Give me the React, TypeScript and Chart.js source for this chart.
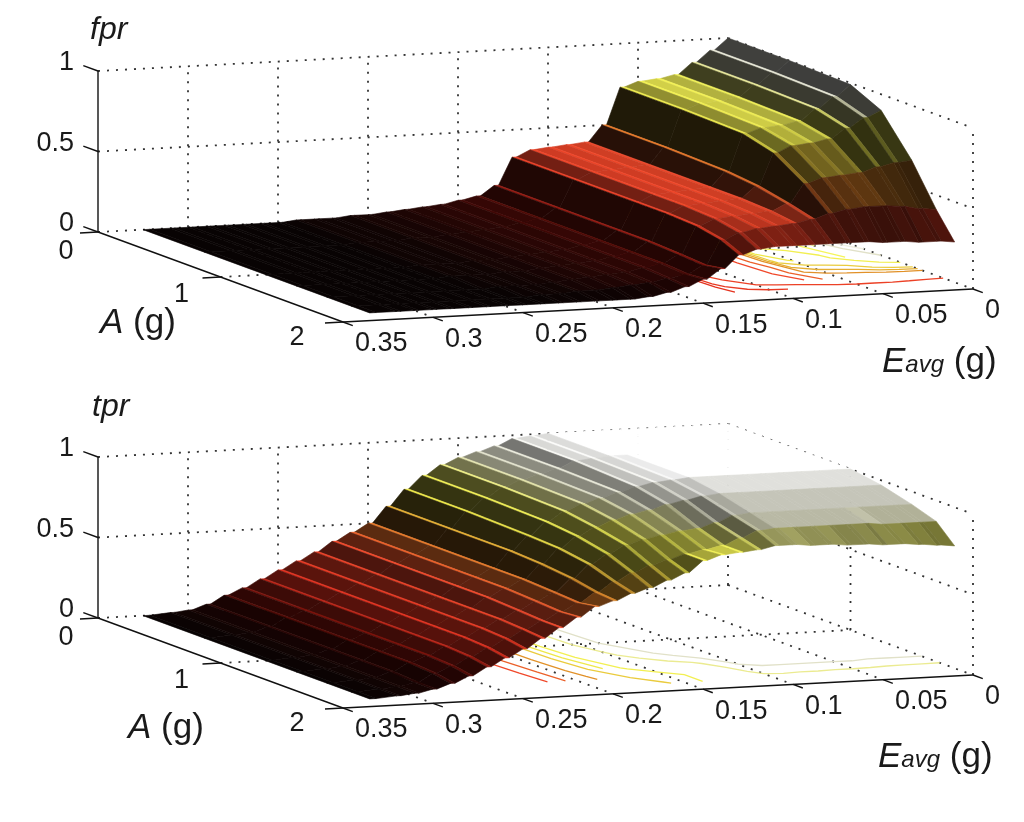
import { useEffect, useRef } from 'react';
import { Chart, registerables } from 'chart.js';

Chart.register(...registerables);

// Eavg (g) sample columns, from the left edge of the surface to the right
const EAVG = [
	0.325, 0.31, 0.3, 0.29, 0.28, 0.27, 0.26, 0.25, 0.24, 0.23, 0.22, 0.21, 0.2, 0.19, 0.18, 0.17, 0.16,
	0.15, 0.14, 0.13, 0.12, 0.11, 0.1, 0.09, 0.08, 0.07, 0.06, 0.05, 0.04, 0.03, 0.02, 0.01, 0,
];
// A (g) sample rows, back to front
const AMP = [0, 0.5, 1, 1.25, 1.5, 1.7, 1.85];

// fpr, one row per A value
const FPR_A000 = [0, 0, 0, 0, 0, 0, 0, 0, 0.01, 0.01, 0.01, 0.02, 0.02, 0.03, 0.04, 0.05, 0.06, 0.08, 0.1, 0.16, 0.33, 0.37, 0.38, 0.39, 0.4, 0.5, 0.73, 0.76, 0.77, 0.79, 0.86, 0.93, 1];
const FPR_A050 = [0, 0, 0, 0, 0, 0, 0, 0, 0.01, 0.01, 0.01, 0.02, 0.02, 0.03, 0.04, 0.05, 0.06, 0.08, 0.1, 0.16, 0.33, 0.37, 0.38, 0.39, 0.4, 0.5, 0.73, 0.76, 0.77, 0.79, 0.86, 0.93, 1];
const FPR_A100 = [0, 0, 0, 0, 0, 0, 0, 0, 0.01, 0.01, 0.01, 0.02, 0.02, 0.03, 0.04, 0.05, 0.06, 0.08, 0.1, 0.16, 0.33, 0.37, 0.38, 0.39, 0.4, 0.49, 0.72, 0.75, 0.76, 0.78, 0.85, 0.92, 0.99];
const FPR_A125 = [0, 0, 0, 0, 0, 0, 0, 0, 0.01, 0.01, 0.01, 0.02, 0.02, 0.03, 0.04, 0.05, 0.06, 0.08, 0.1, 0.16, 0.33, 0.37, 0.38, 0.39, 0.4, 0.47, 0.67, 0.71, 0.72, 0.74, 0.8, 0.86, 0.9];
const FPR_A150 = [0, 0, 0, 0, 0, 0, 0, 0, 0, 0.01, 0.01, 0.01, 0.02, 0.03, 0.04, 0.05, 0.06, 0.08, 0.1, 0.15, 0.32, 0.36, 0.37, 0.38, 0.39, 0.43, 0.55, 0.58, 0.59, 0.6, 0.63, 0.65, 0.66];
const FPR_A170 = [0, 0, 0, 0, 0, 0, 0, 0, 0, 0, 0.01, 0.01, 0.02, 0.02, 0.03, 0.04, 0.05, 0.07, 0.09, 0.14, 0.29, 0.33, 0.35, 0.36, 0.37, 0.39, 0.42, 0.44, 0.45, 0.45, 0.44, 0.42, 0.41];
const FPR_A185 = [0, 0, 0, 0, 0, 0, 0, 0, 0, 0, 0, 0, 0, 0, 0, 0.01, 0.03, 0.06, 0.1, 0.16, 0.24, 0.27, 0.28, 0.28, 0.28, 0.28, 0.28, 0.28, 0.27, 0.27, 0.26, 0.26, 0.25];

// tpr, one row per A value
const TPR_A000 = [0, 0.01, 0.02, 0.05, 0.1, 0.14, 0.19, 0.24, 0.29, 0.34, 0.4, 0.45, 0.5, 0.6, 0.7, 0.78, 0.84, 0.88, 0.91, 0.94, 0.98, 0.99, 1, 1, 1, 1, 1, 1, 1, 1, 1, 1, 1];
const TPR_A050 = [0, 0.01, 0.02, 0.05, 0.1, 0.14, 0.19, 0.24, 0.29, 0.34, 0.4, 0.45, 0.5, 0.6, 0.7, 0.78, 0.84, 0.88, 0.91, 0.94, 0.98, 0.99, 1, 1, 1, 1, 1, 1, 1, 1, 1, 1, 1];
const TPR_A100 = [0, 0.01, 0.02, 0.05, 0.1, 0.14, 0.19, 0.24, 0.29, 0.34, 0.4, 0.45, 0.5, 0.6, 0.69, 0.77, 0.83, 0.87, 0.9, 0.93, 0.96, 0.98, 0.99, 1, 1, 1, 1, 1, 1, 1, 1, 1, 1];
const TPR_A125 = [0, 0.01, 0.02, 0.05, 0.1, 0.14, 0.19, 0.24, 0.29, 0.34, 0.4, 0.45, 0.5, 0.59, 0.68, 0.75, 0.8, 0.84, 0.87, 0.89, 0.92, 0.94, 0.96, 0.97, 0.97, 0.97, 0.97, 0.97, 0.97, 0.97, 0.97, 0.97, 0.97];
const TPR_A150 = [0, 0.01, 0.02, 0.05, 0.1, 0.14, 0.19, 0.24, 0.29, 0.34, 0.39, 0.44, 0.49, 0.57, 0.65, 0.71, 0.76, 0.79, 0.81, 0.83, 0.84, 0.87, 0.91, 0.92, 0.92, 0.92, 0.92, 0.92, 0.92, 0.92, 0.92, 0.92, 0.92];
const TPR_A170 = [0, 0.01, 0.02, 0.04, 0.09, 0.13, 0.18, 0.23, 0.28, 0.33, 0.38, 0.43, 0.48, 0.54, 0.6, 0.65, 0.69, 0.72, 0.75, 0.77, 0.79, 0.83, 0.87, 0.88, 0.88, 0.88, 0.88, 0.88, 0.88, 0.87, 0.87, 0.87, 0.87];
const TPR_A185 = [0, 0.01, 0.02, 0.04, 0.07, 0.11, 0.16, 0.21, 0.26, 0.32, 0.38, 0.44, 0.5, 0.53, 0.57, 0.6, 0.64, 0.68, 0.75, 0.78, 0.79, 0.8, 0.82, 0.82, 0.81, 0.81, 0.8, 0.8, 0.79, 0.79, 0.78, 0.77, 0.76];

const FPR = [FPR_A000, FPR_A050, FPR_A100, FPR_A125, FPR_A150, FPR_A170, FPR_A185];
const TPR = [TPR_A000, TPR_A050, TPR_A100, TPR_A125, TPR_A150, TPR_A170, TPR_A185];

const E_TICKS = [0.35, 0.3, 0.25, 0.2, 0.15, 0.1, 0.05, 0];
const E_TICK_LABELS = ['0.35', '0.3', '0.25', '0.2', '0.15', '0.1', '0.05', '0'];
const A_TICKS = [0, 1, 2];
const A_TICK_LABELS = ['0', '1', '2'];
const Z_TICKS = [0, 0.5, 1];
const Z_TICK_LABELS = ['0', '0.5', '1'];
const CONTOUR_LEVELS = [
	0.05, 0.1, 0.15, 0.2, 0.25, 0.3, 0.35, 0.4, 0.45, 0.5, 0.55, 0.6, 0.65, 0.7, 0.75, 0.8, 0.85, 0.9, 0.95,
];

// box limits
const E_MAX = 0.35;
const A_MAX = 2;
const Z_MAX = 1;

// canvas size and view (page pixels)
const W = 1008;
const H = 386;
const PAGE_LEFT = 8;
const OX = 98;
const EX = 630;
const EY = -33;
const AX = 245;
const AY = 90;
const ZH = 161;
const TREAD = 0.25; // share of each E cell drawn as a flat step

const FONT = '"Liberation Sans", Arial, sans-serif';
const INK = '#1a1a1a';

// hot-like colour map with a white top
const CMAP: [number, number[]][] = [
	[0, [8, 3, 3]],
	[0.12, [95, 12, 8]],
	[0.22, [225, 45, 28]],
	[0.4, [240, 72, 42]],
	[0.55, [225, 145, 40]],
	[0.7, [238, 232, 72]],
	[0.8, [245, 245, 90]],
	[0.9, [225, 225, 200]],
	[1, [255, 255, 255]],
];
const LIGHT = [0.6, -1.0, 1];
const AMBIENT = 0.14;
const CONTRAST = 2.2;

interface PanelSpec {
	top: number;
	originY: number;
	rows: number[][];
	zTitle: string;
	zTitleAt: [number, number];
	aTitleAt: [number, number];
	eTitleAt: [number, number];
}

const FPR_PANEL: PanelSpec = {
	top: 8,
	originY: 232,
	rows: FPR,
	zTitle: 'fpr',
	zTitleAt: [90, 39],
	aTitleAt: [100, 333],
	eTitleAt: [882, 372],
};
const TPR_PANEL: PanelSpec = {
	top: 394,
	originY: 618,
	rows: TPR,
	zTitle: 'tpr',
	zTitleAt: [92, 416],
	aTitleAt: [128, 738],
	eTitleAt: [878, 767],
};

type Pt = { x: number; y: number };
type P3 = [number, number, number];

const project = (e: number, a: number, z: number, oy: number): Pt => {
	const u = (E_MAX - e) / E_MAX;
	const v = a / A_MAX;
	return { x: OX + u * EX + v * AX, y: oy + u * EY + v * AY - (z / Z_MAX) * ZH };
};

const heat = (z: number) => {
	const t = Math.max(0, Math.min(1, z));
	for (let k = 1; k < CMAP.length; k++) {
		const [z0, c0] = CMAP[k - 1];
		const [z1, c1] = CMAP[k];
		if (t <= z1) {
			const f = (t - z0) / (z1 - z0);
			return c0.map((c, i) => c + f * (c1[i] - c));
		}
	}
	return CMAP[CMAP.length - 1][1];
};

const rgb = (c: number[], s = 1) =>
	`rgb(${Math.round(c[0] * s)}, ${Math.round(c[1] * s)}, ${Math.round(c[2] * s)})`;

// brightness of a facet, flat = 1
const shade = (c: P3[]) => {
	const w = c.map(([e, a, z]) => [((E_MAX - e) / E_MAX) * 674, (a / A_MAX) * 692, z * 164]);
	const d1 = [w[2][0] - w[0][0], w[2][1] - w[0][1], w[2][2] - w[0][2]];
	const d2 = [w[3][0] - w[1][0], w[3][1] - w[1][1], w[3][2] - w[1][2]];
	let n = [d1[1] * d2[2] - d1[2] * d2[1], d1[2] * d2[0] - d1[0] * d2[2], d1[0] * d2[1] - d1[1] * d2[0]];
	if (n[2] < 0) n = n.map((q) => -q);
	const len = Math.hypot(n[0], n[1], n[2]) || 1;
	const dot = (n[0] * LIGHT[0] + n[1] * LIGHT[1] + n[2] * LIGHT[2]) / len / LIGHT[2];
	return AMBIENT + (1 - AMBIENT) * Math.pow(Math.max(0, Math.min(1, dot)), CONTRAST);
};

const buildDatasets = (panel: PanelSpec) => {
	const oy = panel.originY;
	const layers: any[] = [];
	const seg = (p: P3, q: P3) => [project(p[0], p[1], p[2], oy), project(q[0], q[1], q[2], oy)];

	// dotted grid on the back wall, right wall and floor
	const grid: [P3, P3][] = [];
	E_TICKS.filter((e) => e !== E_MAX).forEach((e) => {
		grid.push([[e, 0, 0], [e, 0, Z_MAX]]);
		grid.push([[e, 0, 0], [e, A_MAX, 0]]);
	});
	Z_TICKS.filter((z) => z !== 0).forEach((z) => {
		grid.push([[E_MAX, 0, z], [0, 0, z]]);
		grid.push([[0, 0, z], [0, A_MAX, z]]);
	});
	A_TICKS.filter((a) => a !== 0).forEach((a) => grid.push([[0, a, 0], [0, a, Z_MAX]]));
	A_TICKS.filter((a) => a !== A_MAX).forEach((a) => grid.push([[E_MAX, a, 0], [0, a, 0]]));
	grid.forEach(([p, q]) =>
		layers.push({
			data: seg(p, q),
			showLine: true,
			borderColor: '#333333',
			borderWidth: 1.8,
			borderDash: [2, 7],
			pointRadius: 0,
			parsing: false,
		}),
	);

	// floor contours
	const rows = panel.rows;
	CONTOUR_LEVELS.forEach((level) => {
		const pts: Pt[] = [];
		for (let j = 0; j < AMP.length - 1; j++) {
			for (let i = 0; i < EAVG.length - 1; i++) {
				const c: P3[] = [
					[EAVG[i], AMP[j], rows[j][i]],
					[EAVG[i + 1], AMP[j], rows[j][i + 1]],
					[EAVG[i + 1], AMP[j + 1], rows[j + 1][i + 1]],
					[EAVG[i], AMP[j + 1], rows[j + 1][i]],
				];
				const cross: Pt[] = [];
				for (let k = 0; k < 4; k++) {
					const a = c[k];
					const b = c[(k + 1) % 4];
					if (a[2] < level !== b[2] < level) {
						const t = (level - a[2]) / (b[2] - a[2]);
						cross.push(project(a[0] + t * (b[0] - a[0]), a[1] + t * (b[1] - a[1]), 0, oy));
					}
				}
				for (let k = 0; k + 1 < cross.length; k += 2) {
					pts.push(cross[k], cross[k + 1], { x: NaN, y: NaN });
				}
			}
		}
		layers.push({
			data: pts,
			showLine: true,
			borderColor: rgb(heat(level)),
			borderWidth: 1.3,
			pointRadius: 0,
			parsing: false,
		});
	});

	// solid axes and ticks
	const axes: [P3, P3][] = [
		[[E_MAX, 0, 0], [E_MAX, 0, Z_MAX]],
		[[E_MAX, 0, 0], [E_MAX, A_MAX, 0]],
		[[E_MAX, A_MAX, 0], [0, A_MAX, 0]],
	];
	Z_TICKS.forEach((z) => axes.push([[E_MAX, 0, z], [E_MAX, -0.12, z]]));
	A_TICKS.forEach((a) => axes.push([[E_MAX, a, 0], [E_MAX + 0.01, a, 0]]));
	E_TICKS.forEach((e) => axes.push([[e, A_MAX, 0], [e, A_MAX + 0.08, 0]]));
	axes.forEach(([p, q]) =>
		layers.push({
			data: seg(p, q),
			showLine: true,
			borderColor: '#111111',
			borderWidth: 1.4,
			pointRadius: 0,
			parsing: false,
		}),
	);

	// surface facets, sorted back to front
	const quads: { pts: Pt[]; key: number; color: string }[] = [];
	const addQuad = (c: P3[]) => {
		const pts = c.map(([e, a, z]) => project(e, a, z, oy));
		const eC = c.reduce((s, p) => s + p[0], 0) / 4;
		const aC = c.reduce((s, p) => s + p[1], 0) / 4;
		const zC = c.reduce((s, p) => s + p[2], 0) / 4;
		const key = project(eC, aC, 0, oy).y + zC * 3;
		quads.push({ pts: [...pts, pts[0]], key, color: rgb(heat(zC), shade(c)) });
	};
	for (let j = 0; j < AMP.length - 1; j++) {
		for (let i = 0; i < EAVG.length - 1; i++) {
			const e0 = EAVG[i];
			const e1 = EAVG[i + 1];
			const em = e0 + TREAD * (e1 - e0);
			const a0 = AMP[j];
			const a1 = AMP[j + 1];
			const z00 = rows[j][i];
			const z01 = rows[j + 1][i];
			const z10 = rows[j][i + 1];
			const z11 = rows[j + 1][i + 1];
			addQuad([[e0, a0, z00], [em, a0, z00], [em, a1, z01], [e0, a1, z01]]);
			addQuad([[em, a0, z00], [e1, a0, z10], [e1, a1, z11], [em, a1, z01]]);
		}
	}
	quads.sort((p, q) => p.key - q.key);
	quads.forEach((q) =>
		layers.push({
			data: q.pts,
			showLine: true,
			fill: 'shape',
			backgroundColor: q.color,
			borderColor: q.color,
			borderWidth: 0.6,
			pointRadius: 0,
			parsing: false,
		}),
	);

	// first layer is drawn first
	return layers.map((d, k) => ({ ...d, order: layers.length - k }));
};

const SurfacePanel = ({ panel }: { panel: PanelSpec }) => {
	const canvasRef = useRef<HTMLCanvasElement | null>(null);

	useEffect(() => {
		const canvas = canvasRef.current;
		if (!canvas) return;
		const oy = panel.originY;

		// tick labels and axis titles
		const textPlugin = {
			id: 'boxText',
			afterDatasetsDraw(chart: any) {
				const { ctx } = chart;
				const sx = chart.scales.x;
				const sy = chart.scales.y;
				const put = (text: string, x: number, y: number) =>
					ctx.fillText(text, sx.getPixelForValue(x), sy.getPixelForValue(y));
				ctx.save();
				ctx.fillStyle = INK;
				ctx.font = `27px ${FONT}`;
				ctx.textBaseline = 'middle';

				ctx.textAlign = 'right';
				Z_TICKS.forEach((z, k) => {
					const p = project(E_MAX, 0, z, oy);
					put(Z_TICK_LABELS[k], p.x - 24, p.y - 8);
				});
				ctx.textAlign = 'center';
				A_TICKS.forEach((a, k) => {
					const p = project(E_MAX, a, 0, oy);
					put(A_TICK_LABELS[k], p.x - 32 - 7 * a, p.y + 20 - 2 * a);
				});
				ctx.textAlign = 'left';
				E_TICKS.forEach((e, k) => {
					const p = project(e, A_MAX, 0, oy);
					put(E_TICK_LABELS[k], p.x + 12, p.y + 22);
				});

				ctx.textBaseline = 'alphabetic';
				const runs = (parts: [string, string][], at: [number, number]) => {
					let x = sx.getPixelForValue(at[0]);
					const y = sy.getPixelForValue(at[1]);
					parts.forEach(([font, text]) => {
						ctx.font = font;
						ctx.fillText(text, x, y);
						x += ctx.measureText(text).width;
					});
				};
				runs([[`italic 32px ${FONT}`, panel.zTitle]], panel.zTitleAt);
				runs(
					[
						[`italic 35px ${FONT}`, 'A'],
						[`35px ${FONT}`, ' (g)'],
					],
					panel.aTitleAt,
				);
				runs(
					[
						[`italic 35px ${FONT}`, 'E'],
						[`italic 24px ${FONT}`, 'avg'],
						[`35px ${FONT}`, ' (g)'],
					],
					panel.eTitleAt,
				);
				ctx.restore();
			},
		};

		const chart = new Chart(canvas, {
			type: 'scatter',
			data: { datasets: buildDatasets(panel) },
			options: {
				animation: false,
				responsive: false,
				events: [],
				layout: { padding: 0 },
				plugins: {
					legend: { display: false },
					tooltip: { enabled: false },
				},
				elements: { point: { radius: 0 }, line: { tension: 0 } },
				scales: {
					x: { type: 'linear', min: PAGE_LEFT, max: PAGE_LEFT + W, display: false },
					y: { type: 'linear', min: panel.top, max: panel.top + H, reverse: true, display: false },
				},
			},
			plugins: [textPlugin],
		} as any);

		return () => chart.destroy();
	}, [panel]);

	return <canvas ref={canvasRef} width={W} height={H} style={{ display: 'block', width: W, height: H }} />;
};

export default function App() {
	return (
		<div style={{ width: W, background: '#ffffff' }}>
			<SurfacePanel panel={FPR_PANEL} />
			<SurfacePanel panel={TPR_PANEL} />
		</div>
	);
}
